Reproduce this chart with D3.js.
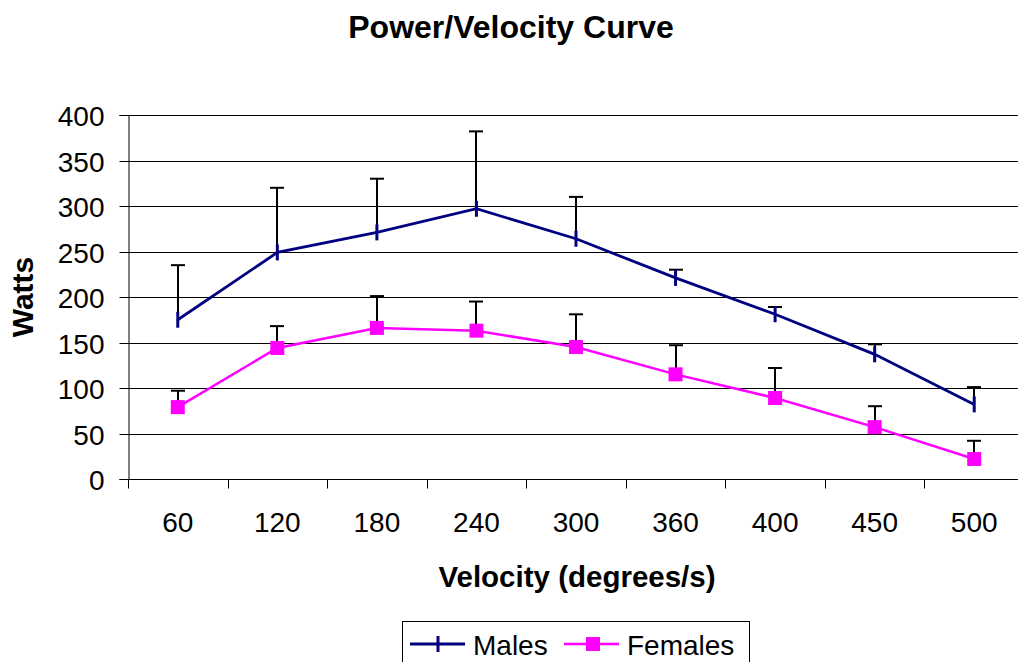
<!DOCTYPE html>
<html>
<head>
<meta charset="utf-8">
<script src="https://cdn.jsdelivr.net/npm/d3@7"></script>
<style>
  html, body { margin: 0; padding: 0; background: #fff; }
  svg { display: block; }
  text { font-family: Arial, "Liberation Sans", sans-serif; fill: #000; }
</style>
</head>
<body>
<svg id="chart" width="1018" height="662"></svg>
<script>
// ---- data ----
const categories = ["60", "120", "180", "240", "300", "360", "400", "450", "500"];
const malesMean = [175, 249, 271, 297, 264, 221, 181, 137, 82];
const malesErrTop = [235, 320, 330, 382, 310, 230, 189, 148, 101];
const femalesMean = [79, 144, 166, 163, 145, 115, 89, 57, 22];
const femalesErrTop = [97, 168, 201, 195, 181, 147, 122, 80, 42];
const yTicks = [0, 50, 100, 150, 200, 250, 300, 350, 400];

const svg = d3.select("#chart");
const pLeft = 128, pRight = 1024, pTop = 115, pBottom = 479;

const x = d3.scaleBand().domain(categories).range([pLeft, pRight]).padding(0);
const xc = c => x(c) + x.bandwidth() / 2;
const y = d3.scaleLinear().domain([0, 400]).range([pBottom, pTop]);

// gridlines
svg.append("g").selectAll("line").data(yTicks.filter(d => d > 0)).join("line")
  .attr("x1", pLeft).attr("x2", pRight)
  .attr("y1", d => Math.round(y(d)) + 0.5).attr("y2", d => Math.round(y(d)) + 0.5)
  .attr("stroke", "#000").attr("stroke-width", 1);

// y axis
const yAxis = svg.append("g").attr("transform", `translate(${pLeft + 0.5},0)`)
  .call(d3.axisLeft(y).tickValues(yTicks).tickSize(9).tickPadding(15));
yAxis.select(".domain").attr("stroke", "#000");
yAxis.selectAll(".tick line").attr("stroke", "#000");
yAxis.selectAll(".tick text").style("font-size", "28px").attr("dy", "0.36em");
yAxis.selectAll(".tick").attr("transform", d => `translate(0,${Math.round(y(d)) + 0.5})`);

// x axis
const xAxis = svg.append("g").attr("transform", `translate(0,${Math.round(pBottom) + 0.5})`);
xAxis.append("line").attr("x1", pLeft).attr("x2", pRight).attr("stroke", "#000");
const bounds = categories.map(c => x(c)).concat([pRight]);
xAxis.selectAll("line.tk").data(bounds).join("line").attr("class", "tk")
  .attr("x1", d => Math.round(d) + 0.5).attr("x2", d => Math.round(d) + 0.5)
  .attr("y1", 0).attr("y2", 9).attr("stroke", "#000");
xAxis.selectAll("text").data(categories).join("text")
  .attr("x", d => xc(d)).attr("y", 52.5).attr("text-anchor", "middle")
  .style("font-size", "28px").text(d => d);

// error bars
function errBars(mean, errTop) {
  const g = svg.append("g").attr("stroke", "#000").attr("stroke-width", 2);
  categories.forEach((c, i) => {
    const cx = Math.round(xc(c));
    g.append("line").attr("x1", cx).attr("x2", cx).attr("y1", y(mean[i])).attr("y2", y(errTop[i]));
    g.append("line").attr("x1", cx - 7).attr("x2", cx + 7).attr("y1", y(errTop[i])).attr("y2", y(errTop[i]));
  });
}
errBars(malesMean, malesErrTop);
errBars(femalesMean, femalesErrTop);

// lines
const line = d3.line().x((d, i) => xc(categories[i])).y(d => y(d));
svg.append("path").datum(malesMean).attr("d", line)
  .attr("fill", "none").attr("stroke", "#000080").attr("stroke-width", 2.8);
svg.append("path").datum(femalesMean).attr("d", line)
  .attr("fill", "none").attr("stroke", "#FF00FF").attr("stroke-width", 2.5);

// markers
svg.append("g").selectAll("line").data(malesMean).join("line")
  .attr("x1", (d, i) => xc(categories[i])).attr("x2", (d, i) => xc(categories[i]))
  .attr("y1", d => y(d) - 8).attr("y2", d => y(d) + 8)
  .attr("stroke", "#000080").attr("stroke-width", 3);
svg.append("g").selectAll("rect").data(femalesMean).join("rect")
  .attr("x", (d, i) => xc(categories[i]) - 7).attr("y", d => y(d) - 7)
  .attr("width", 14).attr("height", 14).attr("fill", "#FF00FF");

// title & axis labels
svg.append("text").attr("x", 511).attr("y", 38).attr("text-anchor", "middle")
  .style("font-size", "32px").style("font-weight", "bold").text("Power/Velocity Curve");
svg.append("text").attr("x", 577).attr("y", 587).attr("text-anchor", "middle")
  .style("font-size", "29.5px").style("font-weight", "bold").text("Velocity (degrees/s)");
svg.append("text").attr("transform", `translate(33,${(pTop + pBottom) / 2}) rotate(-90)`)
  .attr("text-anchor", "middle")
  .style("font-size", "30px").style("font-weight", "bold").text("Watts");

// legend
const lg = svg.append("g");
lg.append("rect").attr("x", 402.5).attr("y", 621.5).attr("width", 347).attr("height", 60)
  .attr("fill", "#fff").attr("stroke", "#000").attr("stroke-width", 1);
lg.append("line").attr("x1", 410).attr("x2", 465).attr("y1", 644).attr("y2", 644)
  .attr("stroke", "#000080").attr("stroke-width", 2.8);
lg.append("line").attr("x1", 438).attr("x2", 438).attr("y1", 636).attr("y2", 652)
  .attr("stroke", "#000080").attr("stroke-width", 3);
lg.append("text").attr("x", 473).attr("y", 655).style("font-size", "28px").text("Males");
lg.append("line").attr("x1", 564).attr("x2", 619).attr("y1", 644).attr("y2", 644)
  .attr("stroke", "#FF00FF").attr("stroke-width", 2.5);
lg.append("rect").attr("x", 586).attr("y", 637).attr("width", 14).attr("height", 14)
  .attr("fill", "#FF00FF");
lg.append("text").attr("x", 627).attr("y", 655).style("font-size", "28px").text("Females");
</script>
</body>
</html>
